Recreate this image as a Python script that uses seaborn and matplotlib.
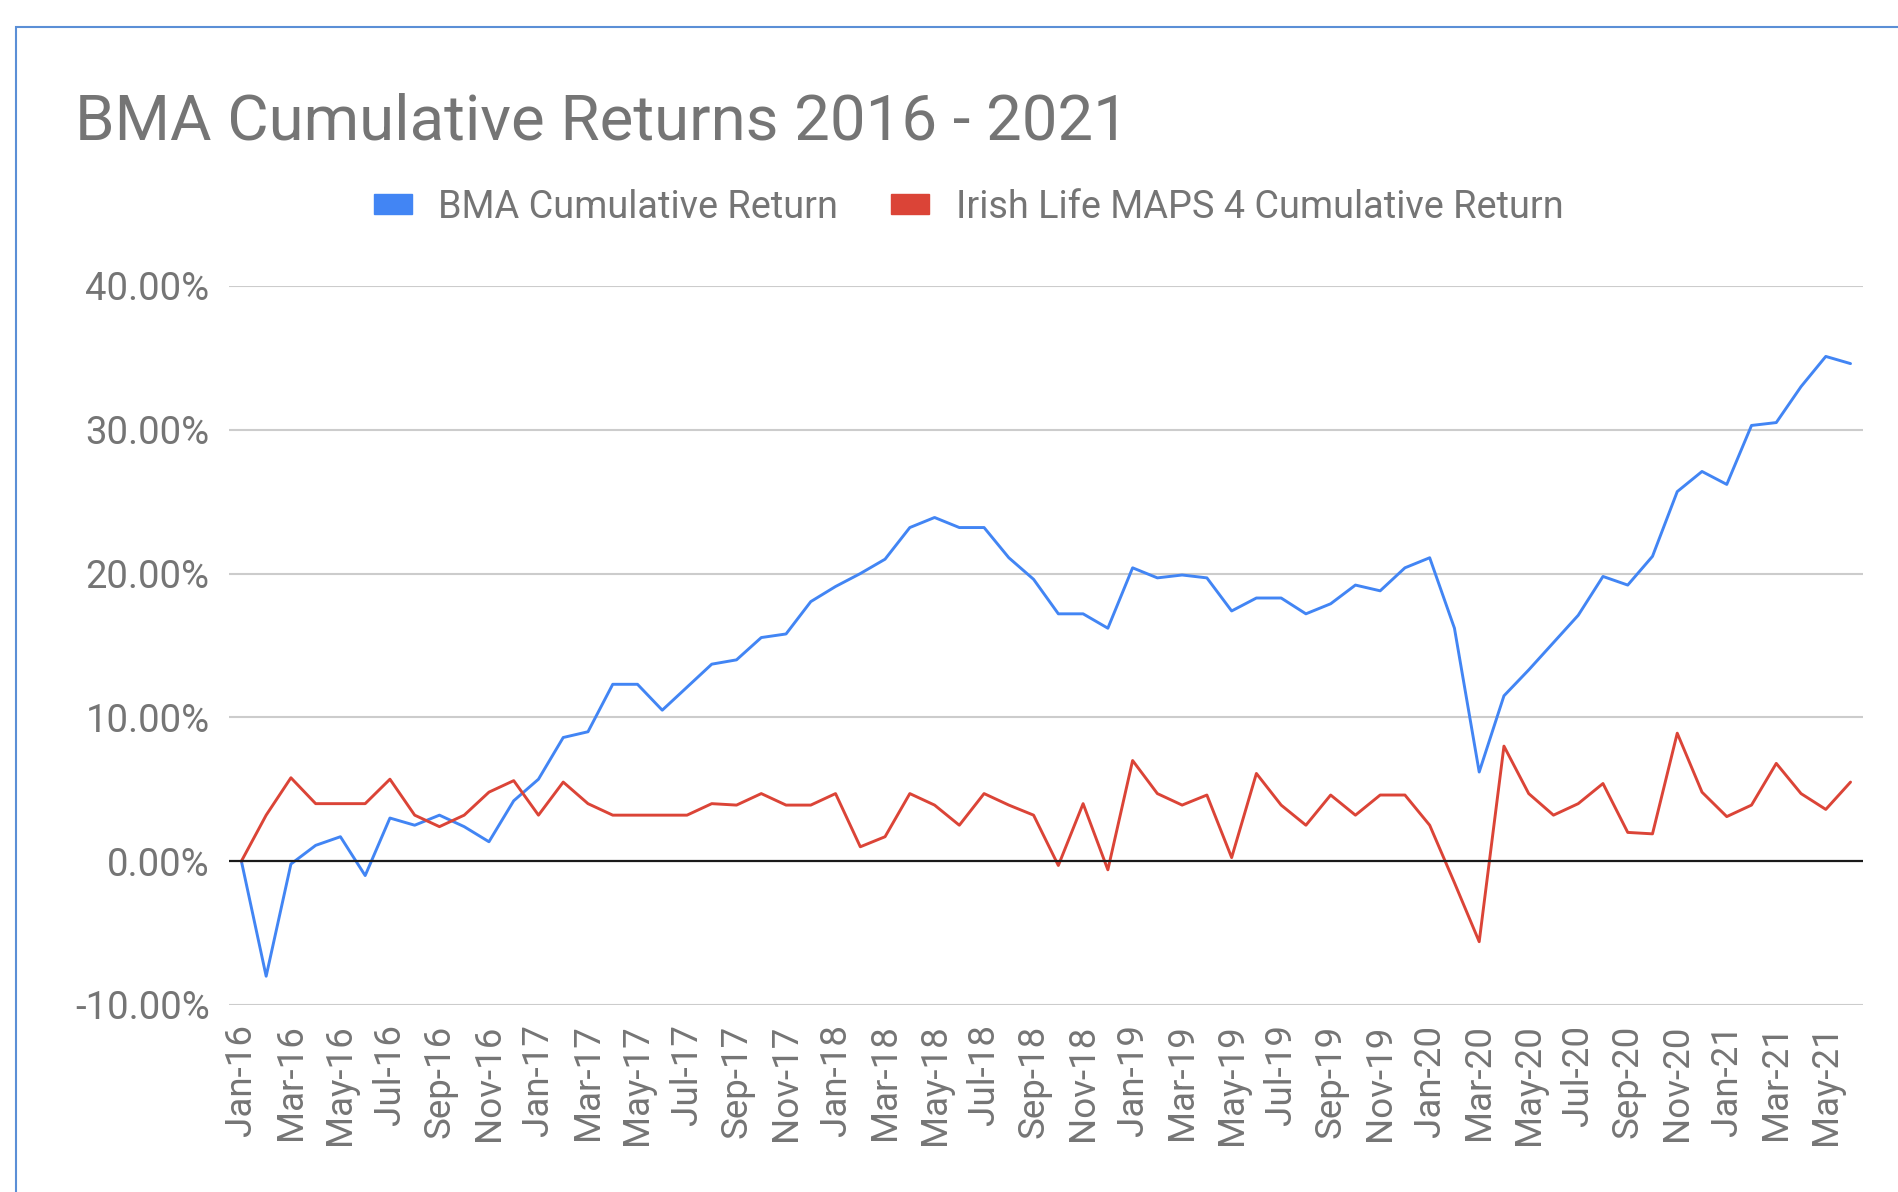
# BMA Cumulative Returns 2016 - 2021

import matplotlib
matplotlib.use('Agg')
import matplotlib.pyplot as plt, \
       matplotlib.patches as mpatches
import seaborn as sns
import pandas as pd

# Datos (porcentaje acumulado, mensual Jan-16 .. Jun-21)
meses = pd.date_range('2016-01-01', periods=66, freq='MS').strftime('%b-%y').tolist()

bma = [0.0, -8.0, -0.2, 1.1, 1.7, -1.0, 3.0, 2.5, 3.2, 2.4, 1.35, 4.2,
       5.7, 8.6, 9.0, 12.3, 12.3, 10.5, 12.1, 13.7, 14.0, 15.55, 15.8, 18.05,
       19.1, 20.0, 21.0, 23.2, 23.9, 23.2, 23.2, 21.1, 19.6, 17.2, 17.2, 16.2,
       20.4, 19.7, 19.9, 19.7, 17.4, 18.3, 18.3, 17.2, 17.9, 19.2, 18.8, 20.4,
       21.1, 16.2, 6.2, 11.5, 13.3, 15.2, 17.1, 19.8, 19.2, 21.2, 25.7, 27.1,
       26.2, 30.3, 30.5, 33.0, 35.1, 34.6]

irish_life = [0.0, 3.2, 5.8, 4.0, 4.0, 4.0, 5.7, 3.2, 2.4, 3.2, 4.8, 5.6,
              3.2, 5.5, 4.0, 3.2, 3.2, 3.2, 3.2, 4.0, 3.9, 4.7, 3.9, 3.9,
              4.7, 1.0, 1.7, 4.7, 3.9, 2.5, 4.7, 3.9, 3.2, -0.3, 4.0, -0.6,
              7.0, 4.7, 3.9, 4.6, 0.25, 6.1, 3.9, 2.5, 4.6, 3.2, 4.6, 4.6,
              2.5, -1.5, -5.6, 8.0, 4.7, 3.2, 4.0, 5.4, 2.0, 1.9, 8.9, 4.8,
              3.1, 3.9, 6.8, 4.7, 3.6, 5.5]

series = ['BMA Cumulative Return', 'Irish Life MAPS 4 Cumulative Return']
colores = {series[0]: '#4285F4', series[1]: '#DB4437'}
y_ticks = [-10, 0, 10, 20, 30, 40]
gris = '#757575'

df = pd.DataFrame({
    'idx': list(range(len(meses))) * 2,
    'valor': bma + irish_life,
    'serie': [series[0]] * len(bma) + [series[1]] * len(irish_life),
})

sns.set_style('white')
plt.rcParams['font.family'] = ['Roboto', 'DejaVu Sans']

fig = plt.figure(figsize=(18.99, 11.92), dpi=100)
ax = fig.add_axes([0.1206, 0.1569, 0.8604, 0.6032])

# Lineas de cuadricula
for v in y_ticks:
    ax.axhline(v, color='#1a1a1a' if v == 0 else '#cccccc',
               linewidth=1.6 if v == 0 else 1.5, zorder=1 if v else 3)

sns.lineplot(data=df, x='idx', y='valor', hue='serie', palette=colores,
             linewidth=2.1, legend=False, ax=ax, zorder=2)

ax.set_xlim(-0.5, len(meses) - 0.5)
ax.set_ylim(-10, 40)
ax.set_yticks(y_ticks)
ax.set_yticklabels([f'{v:.2f}%' for v in y_ticks], fontsize=27.5, color=gris)
ax.set_xticks(range(0, len(meses), 2))
ax.set_xticklabels(meses[::2], rotation=90, fontsize=26.5, color=gris)
ax.tick_params(axis='both', length=0)
ax.tick_params(axis='y', pad=14)
ax.tick_params(axis='x', pad=14)
ax.set_xlabel('')
ax.set_ylabel('')
for s in ax.spines.values():
    s.set_visible(False)

# Titulo
fig.text(0.0395, 1 - 139 / 1192, 'BMA Cumulative Returns 2016 - 2021',
         fontsize=45.7, color=gris, va='baseline', ha='left')

# Leyenda
handles = [mpatches.Patch(color=colores[s], label=s) for s in series]
leg = fig.legend(handles=handles, loc='center', bbox_to_anchor=(0.51, 0.8263),
                 ncol=2, frameon=False, fontsize=27.3, handlelength=1.0,
                 handleheight=0.4, handletextpad=0.7, columnspacing=1.4)
for t in leg.get_texts():
    t.set_color(gris)

# Borde del grafico
fig.patches.append(mpatches.Rectangle((16 / 1899, -0.1), 1.2, 1 - 27 / 1192 + 0.1,
                                      transform=fig.transFigure, fill=False,
                                      edgecolor='#5b8fd6', linewidth=1.5))

fig.savefig('out.png', dpi=100)
